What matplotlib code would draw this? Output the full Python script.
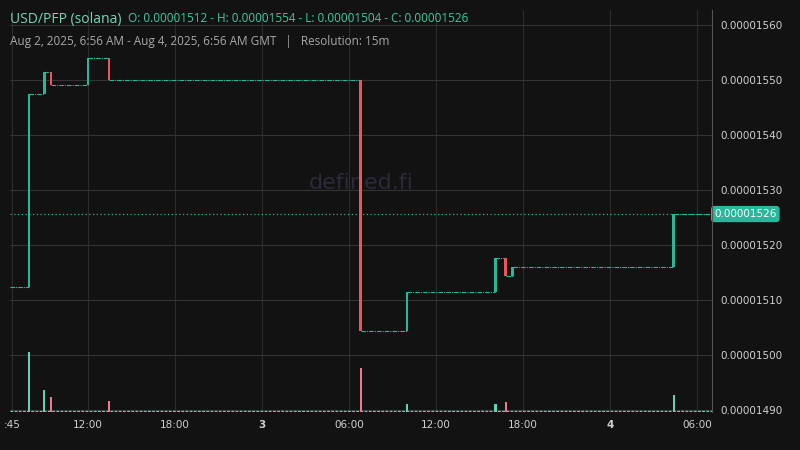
import matplotlib
matplotlib.use("Agg")
import matplotlib.pyplot as plt

# candle times (hours since Aug 2 00:00), open, close (price x1e-8)
c_time = [7.93, 8.97, 9.45, 12.0, 13.45, 30.8, 34.0, 40.1, 40.8, 41.3, 52.4]
c_open = [1512.4, 1547.5, 1551.5, 1549.0, 1554.0, 1550.0, 1504.4, 1511.5, 1517.6, 1514.4, 1516.0]
c_close = [1547.5, 1551.5, 1549.0, 1554.0, 1550.0, 1504.4, 1511.5, 1517.6, 1514.4, 1516.0, 1525.6]
v_time = [7.93, 8.97, 9.45, 13.45, 30.8, 34.0, 40.1, 40.8, 52.4]
v_vals = [60, 22, 15, 11, 44, 8, 8, 10, 17]
v_up = [True, True, False, False, False, True, True, False, True]
y_ticks = [1490, 1500, 1510, 1520, 1530, 1540, 1550, 1560]
x_ticks = [6.75, 12, 18, 24, 30, 36, 42, 48, 54]
x_labels = [":45", "12:00", "18:00", "3", "06:00", "12:00", "18:00", "4", "06:00"]
start_t, end_t = 6.62, 55.03
start_price, last_price = 1512.4, 1525.6

BG = "#121212"; UP = "#26b89a"; DN = "#f0545a"; GRID = "#2c2c2c"
fig = plt.figure(figsize=(8, 4.5), dpi=100, facecolor=BG)
ax = fig.add_axes([10/800, 38/450, 702/800, 402/450], facecolor=BG)
vax = ax.twinx()
ax.set_xlim(start_t, end_t)
ax.set_ylim(1489.6, 1562.7)
for s in list(ax.spines.values()) + list(vax.spines.values()):
    s.set_visible(False)
vax.spines["right"].set_visible(True); vax.spines["right"].set_color("#555")
for t in x_ticks:
    ax.axvline(t, color=GRID, lw=0.8, zorder=0)
for y in y_ticks:
    ax.axhline(y, color="#333", lw=0.8, zorder=0)
ax.yaxis.tick_right()
ax.set_yticks(y_ticks)
ax.set_yticklabels([f"{v*1e-8:.8f}" for v in y_ticks], color="#d0d0d0", fontsize=7.5)
ax.set_xticks(x_ticks)
ax.set_xticklabels(x_labels, color="#d0d0d0", fontsize=7.5)
for lab in ax.get_xticklabels():
    if lab.get_text() in ("3", "4"):
        lab.set_fontweight("bold")
ax.tick_params(length=0, pad=6)

# flat dashed segments between candles
prev_t, prev_p = start_t, start_price
for t, o, c in zip(c_time, c_open, c_close):
    ax.plot([prev_t, t], [prev_p, prev_p], color=UP, lw=0.8, ls=(0, (4, 1, 1, 1)), zorder=2)
    prev_t, prev_p = t, c
ax.plot([prev_t, end_t], [prev_p, prev_p], color=UP, lw=0.8, ls=(0, (4, 1, 1, 1)), zorder=2)
for t, o, c in zip(c_time, c_open, c_close):
    col = UP if c >= o else DN
    ax.bar(t, c - o, bottom=o, width=0.2, color=col, zorder=3)

# volume
vax.set_ylim(0, 402)
vax.set_yticks([])
vax.tick_params(length=0)
for t, v, up in zip(v_time, v_vals, v_up):
    vax.bar(t, v, width=0.15, color="#5fd3b5" if up else "#f07a8a", zorder=3)
vax.plot([start_t, end_t], [1, 1], color="#5fd3b5", lw=1, ls=(0, (2, 1)))

# last price line
ax.axhline(last_price, color=UP, lw=0.9, ls=(0, (1, 2)), zorder=2)
ax.text(1.003, last_price, f"{last_price*1e-8:.8f}", transform=ax.get_yaxis_transform(),
        va="center", ha="left", fontsize=7.5, color="white",
        bbox=dict(boxstyle="round,pad=0.3", fc=UP, ec="none"), zorder=5)

ax.text(0.5, 0.57, "defined.fi", transform=ax.transAxes, ha="center", va="center",
        fontsize=16, color="#2a2a3a", zorder=1)

fig.text(10/800, 1-19/450, "USD/PFP (solana)", color="#6fd8b8", fontsize=10, va="center", family="Open Sans")
fig.text(128/800, 1-19/450, "O: 0.00001512 - H: 0.00001554 - L: 0.00001504 - C: 0.00001526",
         color="#3fc9a4", fontsize=8.5, va="center", family="Open Sans")
fig.text(10/800, 1-41/450, "Aug 2, 2025, 6:56 AM - Aug 4, 2025, 6:56 AM GMT   |   Resolution: 15m",
         color="#a8a8a8", fontsize=8.5, va="center", family="Open Sans")
fig.savefig("out.png", facecolor=BG)
